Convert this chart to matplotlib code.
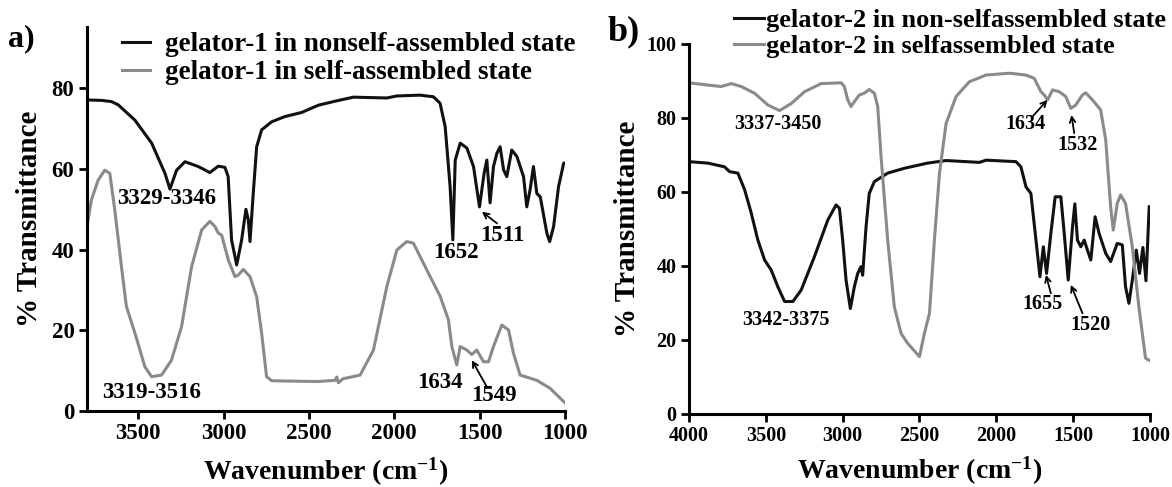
import matplotlib
matplotlib.use("Agg")
import matplotlib.pyplot as plt

plt.rcParams['font.family'] = ['Liberation Serif', 'DejaVu Serif']
plt.rcParams['font.weight'] = 'bold'
plt.rcParams['mathtext.fontset'] = 'custom'
plt.rcParams['mathtext.rm'] = 'Liberation Serif:bold'
plt.rcParams['mathtext.default'] = 'rm'

# ---------------- data: panel a (gelator-1) ----------------
g1_non_wn = [3800, 3793, 3714, 3656, 3617, 3519, 3421, 3343, 3314, 3275, 3226, 3148, 3080,
             3031, 2992, 2973, 2953, 2923, 2894, 2869, 2855, 2845, 2826, 2806, 2777, 2718,
             2640, 2543, 2445, 2347, 2240, 2044, 1985, 1849, 1771, 1732, 1702, 1673, 1657,
             1643, 1614, 1575, 1536, 1501, 1474, 1458, 1439, 1419, 1399, 1380, 1360, 1341,
             1312, 1282, 1243, 1224, 1204, 1185, 1165, 1145, 1106, 1090, 1067, 1038, 1008, 1000]
g1_non_T = [77.2, 77.1, 77.0, 76.7, 75.9, 72.1, 66.4, 58.9, 55.0, 59.7, 61.8, 60.6, 59.1,
            60.7, 60.4, 58.1, 42.4, 36.2, 42.4, 50.0, 47.4, 42.0, 54.0, 65.5, 69.7, 71.7,
            73.0, 74.0, 75.8, 76.8, 77.8, 77.6, 78.1, 78.3, 77.9, 76.3, 70.5, 55.6, 42.4,
            62.2, 66.4, 65.2, 60.6, 50.6, 58.9, 62.2, 51.6, 60.6, 63.9, 65.5, 59.8, 58.1,
            64.7, 63.1, 58.1, 50.6, 55.0, 60.6, 53.9, 53.1, 44.0, 42.0, 45.7, 55.6, 61.4, 61.5]

g1_self_wn = [3800, 3774, 3735, 3696, 3666, 3637, 3598, 3569, 3519, 3461, 3422, 3363, 3305,
              3246, 3187, 3128, 3080, 3050, 3031, 3011, 2972, 2933, 2914, 2884, 2845, 2806,
              2777, 2748, 2718, 2600, 2445, 2347, 2337, 2327, 2300, 2200, 2122, 2044, 1985,
              1927, 1888, 1810, 1731, 1683, 1663, 1634, 1614, 1575, 1546, 1517, 1477, 1448,
              1419, 1370, 1331, 1302, 1263, 1165, 1087, 1000]
g1_self_T = [45.7, 52.3, 57.2, 59.7, 58.9, 49.8, 35.8, 25.9, 19.3, 11.0, 8.5, 8.9, 12.6,
             20.9, 35.8, 44.9, 47.0, 45.7, 44.1, 43.6, 37.4, 33.3, 33.7, 35.1, 33.3, 28.3,
             19.3, 8.5, 7.5, 7.4, 7.3, 7.6, 8.4, 7.0, 8.0, 8.9, 15.1, 30.8, 39.9,
             42.0, 41.6, 35.0, 28.4, 22.6, 16.0, 11.4, 16.0, 15.1, 14.0, 15.1, 12.2, 12.2,
             16.0, 21.3, 20.1, 14.3, 8.9, 7.6, 5.6, 2.0]

# ---------------- data: panel b (gelator-2) ----------------
g2_non_wn = [4000, 3877, 3769, 3736, 3682, 3638, 3595, 3552, 3508, 3465, 3422, 3378, 3324,
             3270, 3184, 3097, 3043, 3021, 3000, 2978, 2950, 2924, 2902, 2881, 2870, 2848,
             2827, 2794, 2707, 2599, 2448, 2327, 2110, 2067, 1872, 1840, 1807, 1775, 1742,
             1716, 1694, 1673, 1645, 1617, 1580, 1558, 1532, 1504, 1489, 1472, 1450, 1428,
             1407, 1385, 1357, 1331, 1288, 1256, 1213, 1180, 1159, 1137, 1115, 1089, 1068,
             1046, 1026, 1005]
g2_non_T = [68.2, 67.8, 66.8, 65.5, 65.1, 60.6, 54.3, 47.0, 41.6, 38.9, 34.4, 30.4, 30.4,
            33.5, 42.5, 52.4, 56.5, 55.6, 47.0, 36.2, 28.5, 34.4, 38.0, 39.8, 37.5, 50.5,
            59.6, 62.8, 65.1, 66.4, 67.8, 68.5, 68.0, 68.6, 68.2, 66.8, 61.4, 59.6, 47.0,
            37.1, 45.2, 38.0, 48.8, 58.7, 58.7, 48.8, 36.2, 50.6, 56.8, 47.0, 45.2, 47.0,
            44.3, 41.6, 53.3, 48.8, 43.4, 41.2, 46.1, 45.7, 34.4, 29.9, 36.2, 44.3, 38.0,
            45.0, 36.0, 56.0]

g2_self_wn = [4000, 3877, 3790, 3725, 3660, 3574, 3487, 3411, 3335, 3248, 3140, 3010, 2989,
              2967, 2946, 2924, 2892, 2859, 2827, 2794, 2772, 2750, 2707, 2664, 2620, 2577,
              2500, 2468, 2435, 2403, 2370, 2327, 2262, 2175, 2067, 1915, 1807, 1753, 1710,
              1688, 1666, 1634, 1591, 1548, 1515, 1483, 1440, 1418, 1375, 1321, 1288, 1256,
              1239, 1213, 1191, 1159, 1115, 1072, 1029, 1005]
g2_self_T = [89.5, 88.9, 88.5, 89.3, 88.5, 86.7, 83.5, 82.0, 83.9, 87.1, 89.3, 89.5, 88.5,
             84.9, 83.1, 84.4, 86.2, 86.7, 87.7, 86.7, 83.1, 69.5, 47.0, 29.0, 21.8, 19.1,
             15.5, 21.8, 27.2, 47.0, 65.0, 78.5, 85.8, 89.8, 91.6, 92.1, 91.6, 90.7, 87.1,
             86.2, 84.9, 87.6, 87.1, 85.8, 82.6, 83.5, 86.2, 86.8, 84.9, 82.2, 74.1, 56.0,
             49.7, 56.9, 59.2, 56.9, 45.2, 28.9, 15.1, 14.5]

a_xticks = [3500, 3000, 2500, 2000, 1500, 1000]
a_yticks = [0, 20, 40, 60, 80]
b_xticks = [4000, 3500, 3000, 2500, 2000, 1500, 1000]
b_yticks = [0, 20, 40, 60, 80, 100]

BLACK = '#111111'
GRAY = '#8a8a8a'

fig = plt.figure(figsize=(11.72, 4.87), dpi=100)

def style(ax, tick_fs):
    ax.spines['top'].set_visible(False)
    ax.spines['right'].set_visible(False)
    for s in ('left', 'bottom'):
        ax.spines[s].set_linewidth(2.2)
    ax.tick_params(direction='out', length=6, width=2.0, labelsize=tick_fs, pad=3)
    for lab in ax.get_xticklabels() + ax.get_yticklabels():
        lab.set_fontweight('bold')

# ---------------- panel a ----------------
axa = fig.add_axes([0.0742, 0.1561, 0.4079, 0.7885])
axa.plot(g1_non_wn, g1_non_T, color=BLACK, lw=2.2, label='gelator-1 in nonself-assembled state')
axa.plot(g1_self_wn, g1_self_T, color=GRAY, lw=2.2, label='gelator-1 in self-assembled state')
axa.set_xlim(3800, 1000)
axa.set_ylim(0, 95.2)
axa.set_xticks(a_xticks)
axa.set_yticks(a_yticks)
style(axa, 16.5)
axa.set_xlabel('Wavenumber (cm$^{-1}$)', fontsize=20, fontweight='bold', labelpad=8)
axa.set_ylabel('% Transmittance', fontsize=21, fontweight='bold', labelpad=6)
leg = axa.legend(loc='upper left', bbox_to_anchor=(0.05, 1.015), frameon=False,
                 fontsize=19.5, handlelength=1.05, handletextpad=0.55, labelspacing=0.12,
                 borderaxespad=0)
for t in leg.get_texts():
    t.set_fontweight('bold')
fig.text(0.007, 0.905, 'a)', fontsize=23, fontweight='bold')

ta = dict(fontsize=16.5, fontweight='bold', ha='center', va='center')
axa.text(3332, 52.8, '3329-3346', **ta)
axa.text(3419, 4.7, '3319-3516', **ta)
axa.text(1638, 39.2, '1652', **ta)
axa.text(1368, 43.6, '1511', **ta)
axa.text(1731, 7.1, '1634', **ta)
axa.text(1418, 3.8, '1549', **ta)
arr = dict(arrowstyle='->', color='black', lw=1.3, shrinkA=0, shrinkB=0)
axa.annotate('', xy=(1487, 49.4), xytext=(1398, 46.5), arrowprops=arr)
axa.annotate('', xy=(1546, 12.6), xytext=(1458, 6.0), arrowprops=arr)

# ---------------- panel b ----------------
axb = fig.add_axes([0.5879, 0.1499, 0.3933, 0.7598])
axb.plot(g2_non_wn, g2_non_T, color=BLACK, lw=2.2, label='gelator-2 in non-selfassembled state')
axb.plot(g2_self_wn, g2_self_T, color=GRAY, lw=2.2, label='gelator-2 in selfassembled state')
axb.set_xlim(4000, 1000)
axb.set_ylim(0, 100)
axb.set_xticks(b_xticks)
axb.set_yticks(b_yticks)
style(axb, 14.5)
axb.set_xlabel('Wavenumber (cm$^{-1}$)', fontsize=20, fontweight='bold', labelpad=6)
axb.set_ylabel('% Transmittance', fontsize=21, fontweight='bold', labelpad=4)
legb = axb.legend(loc='upper left', bbox_to_anchor=(0.075, 1.125), frameon=False,
                  fontsize=19, handlelength=1.14, handletextpad=0.05, labelspacing=0.1,
                  borderaxespad=0)
for t in legb.get_texts():
    t.set_fontweight('bold')
fig.text(0.518, 0.918, 'b)', fontsize=26, fontweight='bold')

tb = dict(fontsize=14.5, fontweight='bold', ha='center', va='center')
axb.text(3419, 78.5, '3337-3450', **tb)
axb.text(3370, 25.4, '3342-3375', **tb)
axb.text(1812, 78.5, '1634', **tb)
axb.text(1471, 72.7, '1532', **tb)
axb.text(1698, 29.6, '1655', **tb)
axb.text(1389, 24.0, '1520', **tb)
axb.annotate('', xy=(1667, 84.9), xytext=(1764, 80.4), arrowprops=arr)
axb.annotate('', xy=(1511, 80.8), xytext=(1493, 75.9), arrowprops=arr)
axb.annotate('', xy=(1677, 37.6), xytext=(1645, 32.6), arrowprops=arr)
axb.annotate('', xy=(1515, 34.9), xytext=(1439, 27.2), arrowprops=arr)

fig.savefig('out.png', dpi=100)
